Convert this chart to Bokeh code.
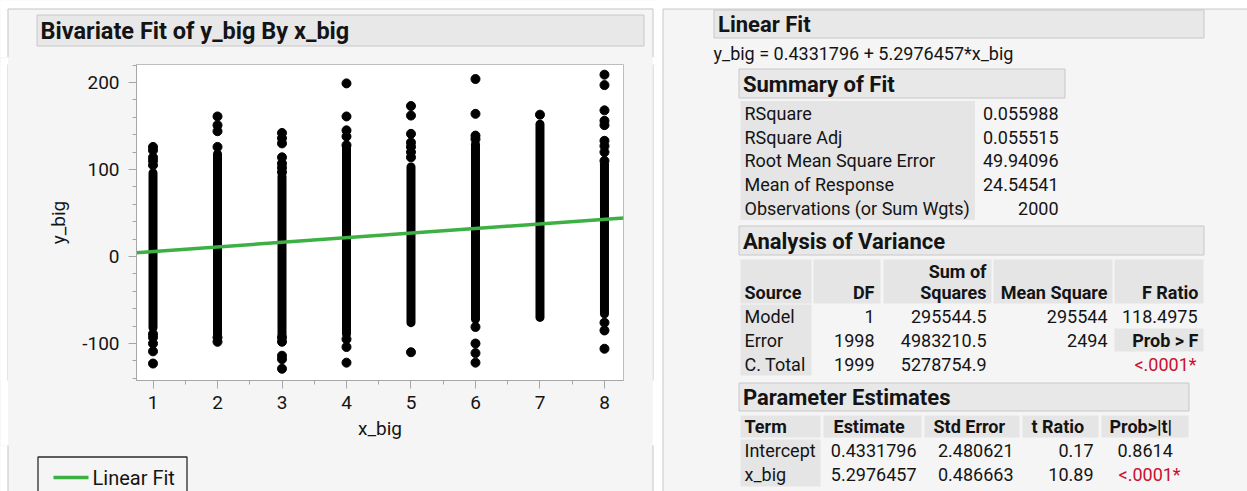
from bokeh.plotting import figure
from bokeh.layouts import row, column
from bokeh.models import Range1d, SingleIntervalTicker, NumeralTickFormatter
from bokeh.embed import file_html
from bokeh.resources import INLINE
from bokeh.core.properties import value

# ---------------- data ----------------
plot_title = "Bivariate Fit of y_big By x_big"
x_name = "x_big"
y_name = "y_big"
legend_label = "Linear Fit"

x_levels = [1, 2, 3, 4, 5, 6, 7, 8]
# dense solid run of points in each column (low / high end)
band_low = [-82, -89, -90, -89, -76, -72, -70, -66]
band_high = [96, 118, 92, 126, 103, 129, 152, 106]
# isolated points of each column
out_1 = [126, 122, 114, 110, 105, -89, -93, -100, -109, -123]
out_2 = [161, 151, 144, 126, -93, -98]
out_3 = [142, 136, 130, 114, 107, 102, 97, -93, -98, -114, -118, -129]
out_4 = [199, 161, 145, 138, 128, -95, -104, -122]
out_5 = [173, 162, 141, 131, 126, 120, 114, -110]
out_6 = [204, 164, 139, 135, -81, -100, -111, -122]
out_7 = [163]
out_8 = [209, 197, 168, 156, 151, 133, 127, 120, 110, -76, -85, -106]

intercept = 0.4331796
slope = 5.2976457

section_titles = ["Linear Fit", "Summary of Fit", "Analysis of Variance", "Parameter Estimates"]

summary_labels = ["RSquare", "RSquare Adj", "Root Mean Square Error",
                  "Mean of Response", "Observations (or Sum Wgts)"]
summary_values = ["0.055988", "0.055515", "49.94096", "24.54541", "2000"]

anova_headers = ["Source", "DF", "Squares", "Mean Square", "F Ratio"]
anova_header_top = "Sum of"
anova_source = ["Model", "Error", "C. Total"]
anova_df = ["1", "1998", "1999"]
anova_ss = ["295544.5", "4983210.5", "5278754.9"]
anova_ms = ["295544", "2494", ""]
anova_f_ratio = "118.4975"
anova_prob_label = "Prob > F"
anova_prob = "<.0001*"

pe_headers = ["Term", "Estimate", "Std Error", "t Ratio", "Prob>|t|"]
pe_term = ["Intercept", "x_big"]
pe_estimate = ["0.4331796", "5.2976457"]
pe_stderr = ["2.480621", "0.486663"]
pe_tratio = ["0.17", "10.89"]
pe_prob = ["0.8614", "<.0001*"]

# ---------------- styles ----------------
FONT = "Roboto"
PANEL_BG = "#f5f5f5"
EDGE = "#c8c8c8"
BOX_BG = "#e8e8e8"
CELL_BG = "#e5e5e5"
INK = "#141414"
RED = "#c8102e"
GREEN = "#3cb043"
AXIS_GREY = "#a6a6a6"
TS = 18  # table text size


def canvas(w, h, x0, x1, y_top, y_bottom, bg="white"):
    f = figure(width=w, height=h, x_range=Range1d(x0, x1), y_range=Range1d(y_bottom, y_top),
               x_axis_type=None, y_axis_type=None, toolbar_location=None,
               output_backend="svg", min_border=0, outline_line_color=None,
               background_fill_color=bg, border_fill_color=bg)
    return f


def txt(f, xs, ys, texts, size, align="left", bold=False, color=INK):
    f.text(x=xs, y=ys, text=texts, text_font=value(FONT), text_font_size=f"{size}px",
           text_align=align, text_baseline="middle", text_color=color,
           text_font_style="bold" if bold else "normal")


def white(f, l, r, t, b):
    f.quad(left=l, right=r, top=t, bottom=b, fill_color="white", line_color=None)


# ---------------- left: title strip ----------------
T = canvas(657, 57, 0, 657, 0, 57, bg=PANEL_BG)
white(T, [-10, -10, 653], [667, 7, 700], [-10, -10, -10], [8, 100, 100])
T.quad(left=[7.5], right=[652.5], top=[8.5], bottom=[120], fill_color=None, line_color=EDGE)
T.quad(left=[36.5], right=[643.5], top=[14.5], bottom=[45.5], fill_color=BOX_BG, line_color=EDGE)
txt(T, [40], [30], [plot_title], 23.5, bold=True)

# ---------------- left: scatter ----------------
LS = canvas(8, 388, 0, 8, 57, 445)
LS.quad(left=[7.5], right=[40], top=[0], bottom=[600], fill_color=PANEL_BG, line_color=EDGE)
RS = canvas(5, 388, 652, 657, 57, 445)
RS.quad(left=[600], right=[652.5], top=[0], bottom=[600], fill_color=PANEL_BG, line_color=EDGE)

x_lo, x_hi = 0.744, 8.295
y_lo, y_hi = -142.5, 220.7
S = figure(width=644, height=388, x_range=Range1d(x_lo, x_hi), y_range=Range1d(y_lo, y_hi),
           toolbar_location=None, output_backend="svg",
           min_border_left=128, min_border_right=29, min_border_top=7, min_border_bottom=65,
           background_fill_color="white", border_fill_color=PANEL_BG,
           outline_line_color="#bdbdbd", x_axis_label=x_name, y_axis_label=y_name)
S.grid.visible = False
S.xaxis.ticker = SingleIntervalTicker(interval=1, num_minor_ticks=2)
S.yaxis.ticker = SingleIntervalTicker(interval=100, num_minor_ticks=5)
S.yaxis.formatter = NumeralTickFormatter(format="0")
for ax in (S.xaxis[0], S.yaxis[0]):
    ax.axis_line_color = AXIS_GREY
    ax.major_tick_line_color = AXIS_GREY
    ax.minor_tick_line_color = AXIS_GREY
    ax.major_tick_out = 8
    ax.major_tick_in = 0
    ax.minor_tick_out = 4
    ax.minor_tick_in = 0
    ax.major_label_text_font = FONT
    ax.major_label_text_font_size = "19px"
    ax.major_label_text_color = INK
    ax.axis_label_text_font = FONT
    ax.axis_label_text_font_size = "19px"
    ax.axis_label_text_font_style = "normal"
    ax.axis_label_text_color = INK
S.xaxis.major_label_standoff = 7
S.xaxis.axis_label_standoff = 5
S.yaxis.major_label_standoff = 9
S.yaxis.axis_label_standoff = 9

S.segment(x0=x_levels, y0=band_low, x1=x_levels, y1=band_high,
          line_color="black", line_width=9, line_cap="round")
ox, oy = [], []
for xv, ys in zip(x_levels, [out_1, out_2, out_3, out_4, out_5, out_6, out_7, out_8]):
    ox += [xv] * len(ys)
    oy += ys
S.scatter(ox, oy, size=9, color="black")
S.line([x_lo, x_hi], [intercept + slope * x_lo, intercept + slope * x_hi],
       line_color=GREEN, line_width=3.5)

# ---------------- left: legend strip ----------------
B = canvas(657, 46, 0, 657, 445, 491, bg=PANEL_BG)
white(B, [-10, 653], [7, 700], [300, 300], [600, 600])
B.quad(left=[7.5], right=[652.5], top=[380], bottom=[560], fill_color=None, line_color=EDGE)
B.quad(left=[37.5], right=[186.5], top=[456.5], bottom=[520], fill_color=PANEL_BG,
       line_color="#2a2a2a", line_width=1.3)
B.segment(x0=[53], y0=[477], x1=[88], y1=[477], line_color=GREEN, line_width=3.5)
txt(B, [92], [477], [legend_label], 20)

# ---------------- right: report tables ----------------
R = canvas(590, 491, 657, 1247, 0, 491)
R.quad(left=[662.5], right=[1300], top=[8.5], bottom=[600], fill_color=PANEL_BG, line_color=EDGE)

hdr_left = [713.5, 738.5, 738.5, 738.5]
hdr_right = [1203.5, 1064.5, 1203.5, 1188.5]
hdr_top = [9.5, 68.5, 225.5, 382.5]
hdr_bot = [37.5, 97.5, 254.5, 410.5]
R.quad(left=hdr_left, right=hdr_right, top=hdr_top, bottom=hdr_bot, fill_color=BOX_BG, line_color=EDGE)
txt(R, [l + 4 for l in hdr_left], [(t + b) / 2 + 0.5 for t, b in zip(hdr_top, hdr_bot)],
    section_titles, 22, bold=True)

# equation
txt(R, [713], [53], [f"{y_name} = {intercept} + {slope}*{x_name}"], 18)

# summary of fit
R.quad(left=[740], right=[974.5], top=[100.5], bottom=[219.5], fill_color=CELL_BG, line_color=None)
sum_y = [113 + 23.7 * i for i in range(len(summary_labels))]
txt(R, [744] * len(summary_labels), sum_y, summary_labels, TS)
txt(R, [1058] * len(summary_values), sum_y, summary_values, TS, align="right")

# analysis of variance
av_l = [740, 813, 883, 993, 1114]
av_r = [811, 880, 991, 1112, 1203]
R.quad(left=av_l, right=av_r, top=[259] * 5, bottom=[303] * 5, fill_color=CELL_BG, line_color=None)
R.quad(left=[740, 1114], right=[811, 1203], top=[304, 328], bottom=[375, 351],
       fill_color=CELL_BG, line_color=None)
av_anchor = [744, 874, 986, 1107, 1198]
txt(R, [av_anchor[0]], [292], [anova_headers[0]], TS, bold=True)
txt(R, av_anchor[1:], [292] * 4, anova_headers[1:], TS, align="right", bold=True)
txt(R, [av_anchor[2]], [271], [anova_header_top], TS, align="right", bold=True)
av_y = [316, 340, 364]
txt(R, [744] * 3, av_y, anova_source, TS)
txt(R, [874] * 3, av_y, anova_df, TS, align="right")
txt(R, [986] * 3, av_y, anova_ss, TS, align="right")
txt(R, [1107] * 3, av_y, anova_ms, TS, align="right")
txt(R, [1197], [av_y[0]], [anova_f_ratio], TS, align="right")
txt(R, [1198], [av_y[1]], [anova_prob_label], TS, align="right", bold=True)
txt(R, [1196], [av_y[2]], [anova_prob], TS, align="right", color=RED)

# parameter estimates
pe_l = [740, 823, 924, 1022, 1101]
pe_r = [820, 921, 1019, 1098, 1188]
R.quad(left=pe_l, right=pe_r, top=[415] * 5, bottom=[437] * 5, fill_color=CELL_BG, line_color=None)
R.quad(left=[740], right=[820], top=[439], bottom=[486], fill_color=CELL_BG, line_color=None)
txt(R, [744, 833, 933, 1031, 1109], [426] * 5, pe_headers, TS, bold=True)
pe_y = [450, 474]
txt(R, [744] * 2, pe_y, pe_term, TS)
txt(R, [916] * 2, pe_y, pe_estimate, TS, align="right")
txt(R, [1013] * 2, pe_y, pe_stderr, TS, align="right")
txt(R, [1093] * 2, pe_y, pe_tratio, TS, align="right")
txt(R, [1117], [pe_y[0]], [pe_prob[0]], TS)
txt(R, [1118], [pe_y[1]], [pe_prob[1]], TS, color=RED)

left_col = column(T, row(LS, S, RS), B, styles={"background-color": PANEL_BG})
page = row(left_col, R)
open("out.html", "w").write(file_html(page, INLINE))
